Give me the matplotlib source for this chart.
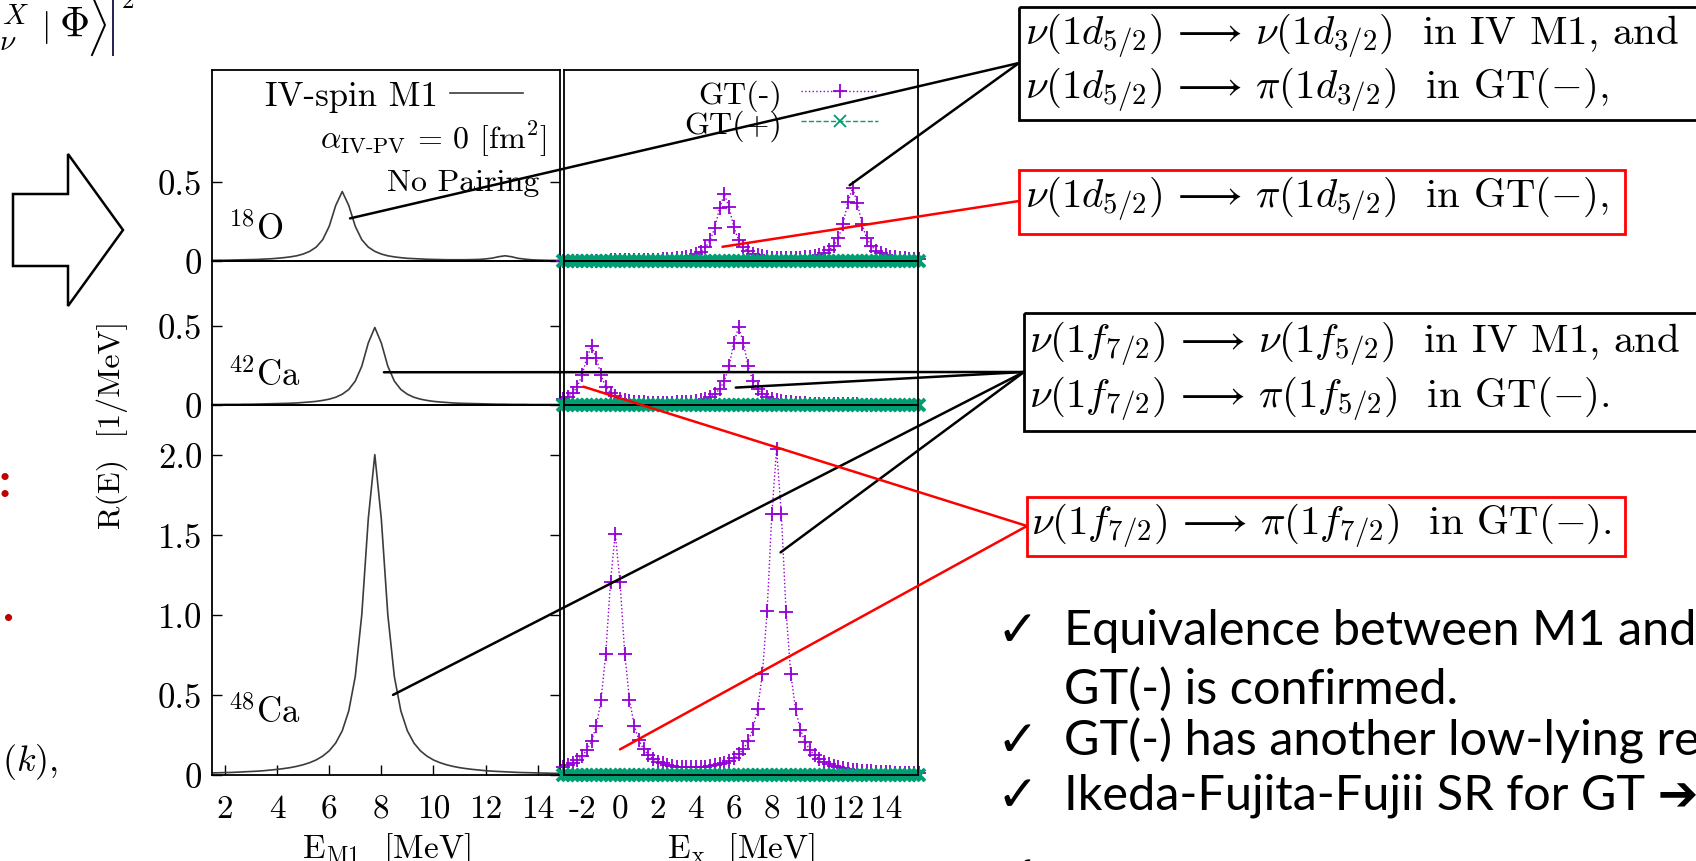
import numpy as np
import matplotlib
matplotlib.use('Agg')
import matplotlib.pyplot as plt
from matplotlib.transforms import Affine2D
from matplotlib.patches import Rectangle, Polygon, ConnectionPatch
from matplotlib.lines import Line2D

W, H = 1696, 862

# energy grids [MeV]
e_m1 = [1.25, 1.5, 1.75, 2.0, 2.25, 2.5, 2.75, 3.0, 3.25, 3.5, 3.75, 4.0, 4.25, 4.5,
        4.75, 5.0, 5.25, 5.5, 5.75, 6.0, 6.25, 6.5, 6.75, 7.0, 7.25, 7.5, 7.75, 8.0,
        8.25, 8.5, 8.75, 9.0, 9.25, 9.5, 9.75, 10.0, 10.25, 10.5, 10.75, 11.0, 11.25,
        11.5, 11.75, 12.0, 12.25, 12.5, 12.75, 13.0, 13.25, 13.5, 13.75, 14.0, 14.25,
        14.5, 14.75, 15.0]
e_gt = [-3.0, -2.75, -2.5, -2.25, -2.0, -1.75, -1.5, -1.25, -1.0, -0.75, -0.5, -0.25,
        0.0, 0.25, 0.5, 0.75, 1.0, 1.25, 1.5, 1.75, 2.0, 2.25, 2.5, 2.75, 3.0, 3.25,
        3.5, 3.75, 4.0, 4.25, 4.5, 4.75, 5.0, 5.25, 5.5, 5.75, 6.0, 6.25, 6.5, 6.75,
        7.0, 7.25, 7.5, 7.75, 8.0, 8.25, 8.5, 8.75, 9.0, 9.25, 9.5, 9.75, 10.0, 10.25,
        10.5, 10.75, 11.0, 11.25, 11.5, 11.75, 12.0, 12.25, 12.5, 12.75, 13.0, 13.25,
        13.5, 13.75, 14.0, 14.25, 14.5, 14.75, 15.0, 15.25, 15.5, 15.75]

# IV-spin M1 strength R(E) [1/MeV]
m1_o18 = [0.004, 0.004, 0.005, 0.005, 0.006, 0.007, 0.008, 0.009, 0.010, 0.012,
          0.014, 0.017, 0.021, 0.026, 0.033, 0.044, 0.061, 0.088, 0.135, 0.220,
          0.352, 0.440, 0.352, 0.220, 0.135, 0.088, 0.061, 0.044, 0.033, 0.026,
          0.021, 0.017, 0.015, 0.013, 0.011, 0.010, 0.009, 0.008, 0.008, 0.008,
          0.008, 0.009, 0.010, 0.013, 0.018, 0.027, 0.033, 0.027, 0.017, 0.012,
          0.008, 0.006, 0.005, 0.004, 0.004, 0.003]
m1_ca42 = [0.003, 0.003, 0.003, 0.004, 0.004, 0.004, 0.005, 0.005, 0.006, 0.007,
           0.008, 0.009, 0.010, 0.011, 0.013, 0.016, 0.019, 0.023, 0.029, 0.037,
           0.049, 0.068, 0.098, 0.151, 0.245, 0.392, 0.490, 0.392, 0.245, 0.151,
           0.098, 0.068, 0.049, 0.037, 0.029, 0.023, 0.019, 0.016, 0.013, 0.011,
           0.010, 0.009, 0.008, 0.007, 0.006, 0.005, 0.005, 0.004, 0.004, 0.004,
           0.003, 0.003, 0.003, 0.003, 0.003, 0.002]
m1_ca48 = [0.012, 0.013, 0.014, 0.015, 0.016, 0.018, 0.020, 0.022, 0.024, 0.027,
           0.031, 0.035, 0.040, 0.046, 0.054, 0.064, 0.077, 0.094, 0.118, 0.151,
           0.200, 0.276, 0.400, 0.615, 1.000, 1.600, 2.000, 1.600, 1.000, 0.615,
           0.400, 0.276, 0.200, 0.151, 0.118, 0.094, 0.077, 0.064, 0.054, 0.046,
           0.040, 0.035, 0.031, 0.027, 0.024, 0.022, 0.020, 0.018, 0.016, 0.015,
           0.014, 0.013, 0.012, 0.011, 0.010, 0.010]

# GT(-) strength
gt_o18 = [0.002, 0.002, 0.002, 0.002, 0.002, 0.003, 0.003, 0.003, 0.003, 0.003,
          0.004, 0.004, 0.004, 0.005, 0.005, 0.005, 0.006, 0.007, 0.007, 0.008,
          0.009, 0.011, 0.013, 0.015, 0.017, 0.021, 0.026, 0.033, 0.044, 0.060,
          0.086, 0.131, 0.212, 0.338, 0.422, 0.339, 0.213, 0.132, 0.087, 0.062,
          0.046, 0.036, 0.030, 0.025, 0.022, 0.021, 0.019, 0.019, 0.019, 0.020,
          0.021, 0.023, 0.027, 0.032, 0.039, 0.050, 0.067, 0.095, 0.144, 0.233,
          0.371, 0.462, 0.370, 0.232, 0.143, 0.094, 0.065, 0.048, 0.036, 0.028,
          0.023, 0.019, 0.016, 0.014, 0.012, 0.010]
gt_ca42 = [0.038, 0.053, 0.076, 0.116, 0.187, 0.298, 0.372, 0.298, 0.187, 0.116,
           0.077, 0.054, 0.040, 0.031, 0.026, 0.021, 0.019, 0.017, 0.015, 0.015,
           0.014, 0.014, 0.014, 0.015, 0.016, 0.017, 0.019, 0.022, 0.026, 0.032,
           0.040, 0.051, 0.070, 0.100, 0.153, 0.247, 0.394, 0.492, 0.393, 0.246,
           0.152, 0.099, 0.069, 0.050, 0.038, 0.030, 0.024, 0.020, 0.017, 0.014,
           0.012, 0.011, 0.009, 0.008, 0.007, 0.007, 0.006, 0.005, 0.005, 0.005,
           0.004, 0.004, 0.004, 0.003, 0.003, 0.003, 0.003, 0.003]
gt_ca48 = [0.052, 0.062, 0.075, 0.093, 0.118, 0.155, 0.212, 0.306, 0.467, 0.756,
           1.207, 1.507, 1.207, 0.758, 0.470, 0.309, 0.217, 0.160, 0.124, 0.100,
           0.084, 0.072, 0.063, 0.057, 0.053, 0.050, 0.048, 0.048, 0.048, 0.050,
           0.052, 0.055, 0.060, 0.067, 0.076, 0.089, 0.105, 0.128, 0.162, 0.211,
           0.287, 0.413, 0.631, 1.021, 1.630, 2.035, 1.629, 1.020, 0.629, 0.410,
           0.284, 0.207, 0.157, 0.123, 0.099, 0.081, 0.068, 0.058, 0.050, 0.043,
           0.038, 0.034, 0.030, 0.027, 0.024, 0.022, 0.020, 0.019, 0.017, 0.016,
           0.015, 0.014, 0.013, 0.012, 0.011, 0.010]
# GT(+) is zero everywhere in all three nuclei
gt_plus = [0.0] * len(e_gt)

nuclei = [r'$^{18}$O', r'$^{42}$Ca', r'$^{48}$Ca']
ymax = [1.21, 0.91, 2.31]
yticks = [[0, 0.5], [0, 0.5], [0, 0.5, 1.0, 1.5, 2.0]]
yticklabels = [['0', '0.5'], ['0', '0.5'], ['0', '0.5', '1.0', '1.5', '2.0']]
xt_m1 = [2, 4, 6, 8, 10, 12, 14]
xt_gt = [-2, 0, 2, 4, 6, 8, 10, 12, 14]

plt.rcParams['font.family'] = 'serif'
plt.rcParams['font.serif'] = ['cmr10']
plt.rcParams['mathtext.fontset'] = 'cm'
plt.rcParams['axes.unicode_minus'] = False
plt.rcParams['axes.formatter.use_mathtext'] = True

fig = plt.figure(figsize=(W / 100, H / 100), dpi=100)
# pixel coords, origin top left
px = Affine2D().scale(1.0 / W, -1.0 / H).translate(0, 1) + fig.transFigure


def panel(x0, x1, y0, y1):
    ax = fig.add_axes([x0 / W, 1 - y1 / H, (x1 - x0) / W, (y1 - y0) / H])
    ax.set_facecolor('none')
    for s in ax.spines.values():
        s.set_linewidth(1.3)
    return ax


rows = [(71, 262), (262, 406), (406, 776)]
left = [panel(212, 560, r[0], r[1]) for r in rows]
right = [panel(564, 918, r[0], r[1]) for r in rows]

m1_vals = [m1_o18, m1_ca42, m1_ca48]
gt_vals = [gt_o18, gt_ca42, gt_ca48]
fs = 23

for i in range(3):
    axl, axr = left[i], right[i]
    axl.plot(e_m1, m1_vals[i], color='#3c3c3c', lw=1.2, label='IV-spin M1')
    n = len(gt_vals[i])
    axr.plot(e_gt[:n], gt_vals[i], color='#9400d3', ls=':', lw=1.0, marker='+',
             ms=9.5, mew=1.3, clip_on=False, label='GT(-)')
    axr.plot(e_gt, gt_plus, color='#009e73', ls='--', lw=1.0, marker='x',
             ms=8, mew=2.8, clip_on=False, label='GT(+)')
    axl.set_xlim(1.5, 14.86)
    axr.set_xlim(-2.95, 15.7)
    axl.set_ylim(0, ymax[i])
    axr.set_ylim(0, ymax[i])
    axl.set_yticks(yticks[i], yticklabels[i])
    axl.tick_params(axis='y', direction='in', length=7, width=1, left=True,
                    right=True, labelsize=25, pad=7)
    axr.set_yticks([])
    axl.text(0.045, [0.17, 0.21, 0.17][i], nuclei[i], transform=axl.transAxes,
             ha='left', va='center', fontsize=25)
    if i < 2:
        axl.set_xticks([])
        axr.set_xticks([])

left[2].set_xticks(xt_m1, [str(v) for v in xt_m1])
left[2].tick_params(axis='x', direction='in', length=7, width=1, labelsize=24, pad=14)
right[2].set_xticks(xt_gt, [str(v) for v in xt_gt])
right[2].tick_params(axis='x', direction='in', length=5, width=1, labelsize=24, pad=14)

left[0].legend(loc='center right', bbox_to_anchor=(0.894, 0.864), markerfirst=False,
               frameon=False, fontsize=25, handlelength=2.1, borderpad=0,
               borderaxespad=0, handletextpad=0.35)
leg = right[0].legend(loc='center right', bbox_to_anchor=(0.887, 0.79), markerfirst=False,
                      frameon=False, fontsize=fs, handlelength=2.4, borderpad=0,
                      borderaxespad=0, handletextpad=0.6, labelspacing=-0.05,
                      numpoints=1)
leg.legend_handles[1].set_markeredgewidth(1.3)
left[0].text(0.96, 0.64, r'$\alpha_{\rm IV\text{-}PV}$ = 0 [fm$^2$]',
             transform=left[0].transAxes, ha='right', va='center', fontsize=fs)
left[0].text(0.94, 0.41, 'No Pairing', transform=left[0].transAxes,
             ha='right', va='center', fontsize=fs)

fig.text(112, 425, 'R(E)  [1/MeV]', transform=px, rotation=90, ha='center',
         va='center', fontsize=fs)
fig.text(386, 850, r'E$_{\rm M1}$  [MeV]', transform=px, ha='center', va='center', fontsize=24)
fig.text(741, 850, r'E$_{\rm x}$  [MeV]', transform=px, ha='center', va='center', fontsize=24)

# boxes with the single-particle transitions
boxes = [(1019, 8, 1700, 121, 'black'), (1019, 171, 1625, 235, 'red'),
         (1024, 314, 1700, 432, 'black'), (1027, 498, 1625, 557, 'red')]
for x0, y0, x1, y1, c in boxes:
    fig.add_artist(Rectangle((x0, y0), x1 - x0, y1 - y0, transform=px, fill=False,
                             edgecolor=c, lw=2.0))

arrow = r'\,\longrightarrow\,'
box_text = [
    (1025, 36, r'$\nu(1d_{5/2})' + arrow + r'\nu(1d_{3/2})$  in IV M1, and'),
    (1025, 90, r'$\nu(1d_{5/2})' + arrow + r'\pi(1d_{3/2})$  in GT$(-)$,'),
    (1025, 199, r'$\nu(1d_{5/2})' + arrow + r'\pi(1d_{5/2})$  in GT$(-)$,'),
    (1029, 344, r'$\nu(1f_{7/2})' + arrow + r'\nu(1f_{5/2})$  in IV M1, and'),
    (1029, 399, r'$\nu(1f_{7/2})' + arrow + r'\pi(1f_{5/2})$  in GT$(-)$.'),
    (1031, 526, r'$\nu(1f_{7/2})' + arrow + r'\pi(1f_{7/2})$  in GT$(-)$.'),
]
for x, y, s in box_text:
    fig.text(x, y, s, transform=px, ha='left', va='center', fontsize=29.5)

# lines from the boxes to the peaks
links = [(left[0], (6.8, 0.27), (1019, 64), 'black'),
         (right[0], (12.1, 0.48), (1019, 64), 'black'),
         (right[0], (5.4, 0.09), (1019, 202), 'red'),
         (left[1], (8.1, 0.207), (1024, 373), 'black'),
         (right[1], (6.1, 0.11), (1024, 373), 'black'),
         (left[2], (8.45, 0.5), (1024, 373), 'black'),
         (right[2], (8.46, 1.39), (1024, 373), 'black'),
         (right[1], (-1.93, 0.116), (1027, 527), 'red'),
         (right[2], (0.0, 0.16), (1027, 527), 'red')]
for ax, xy, pt, c in links:
    con = ConnectionPatch(xyA=xy, coordsA=ax.transData, xyB=pt, coordsB=px,
                          color=c, lw=1.8)
    con.set_zorder(5)
    fig.add_artist(con)

# outline arrow on the left
fig.add_artist(Polygon([(13, 195), (68, 195), (68, 155), (123, 231), (68, 307),
                        (68, 267), (13, 267)], closed=True, transform=px,
                       fill=False, edgecolor='black', lw=1.8))

# pieces of the slide cut at the left edge
fig.text(29, 27, r'$\rho_\nu^X$', transform=px, ha='right', va='center', fontsize=30)
fig.text(45, 27, r'$|$', transform=px, ha='center', va='center', fontsize=24)
fig.text(74, 25, r'$\Phi$', transform=px, ha='center', va='center', fontsize=30)
fig.add_artist(Line2D([92, 105, 92], [-4, 26, 56], transform=px, color='black', lw=1.4))
fig.add_artist(Line2D([113, 113], [-4, 56], transform=px, color='#202050', lw=1.4))
fig.text(121, 2, r'$2$', transform=px, ha='left', va='center', fontsize=18)
fig.text(5, 497, ':', transform=px, ha='center', va='baseline', fontsize=34,
         color='#c00000', family=['Lato', 'DejaVu Sans'], fontweight='bold')
fig.text(9, 621, '.', transform=px, ha='center', va='baseline', fontsize=34,
         color='#c00000', family=['Lato', 'DejaVu Sans'], fontweight='bold')
fig.text(2, 762, r'$(k),$', transform=px, ha='left', va='center', fontsize=26)

# conclusions
bullets = [(631, True, 'Equivalence between M1 and'),
           (689, False, 'GT(-) is confirmed.'),
           (741, True, 'GT(-) has another low-lying re'),
           (796, True, 'Ikeda-Fujita-Fujii SR for GT \u2794'),
           (876, True, '')]
for y, tick, s in bullets:
    if tick:
        fig.text(997, y + 1, '\u2713', transform=px, ha='left', va='center',
                 fontsize=36, family='DejaVu Sans')
    fig.text(1064, y, s, transform=px, ha='left', va='center', fontsize=35,
             family=['Lato', 'DejaVu Sans'])

fig.savefig('out.png', dpi=100)
